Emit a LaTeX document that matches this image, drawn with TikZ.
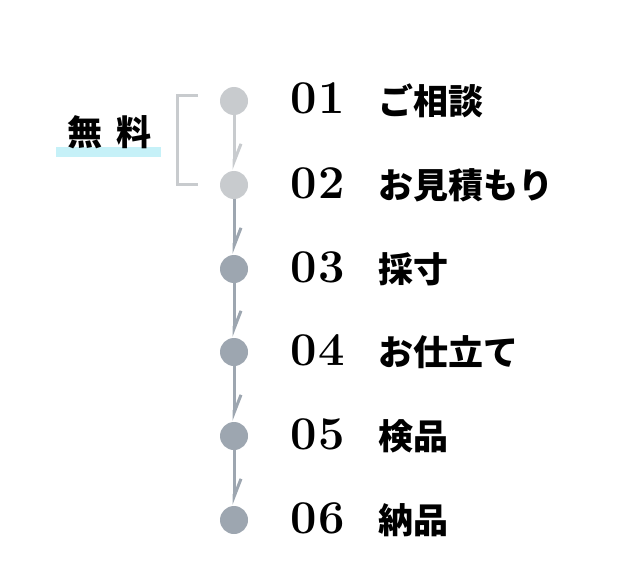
\documentclass[tikz,border=0pt]{standalone}
\usepackage{fontspec}
\usetikzlibrary{arrows.meta}
\newfontfamily\jpfont{Noto Sans CJK JP}
\definecolor{stepgray}{HTML}{C8CBCE}
\definecolor{stepblue}{HTML}{9DA6B0}
\definecolor{freecyan}{HTML}{C6F1F8}
\tikzset{
  dot/.style={circle, fill=#1, draw=none, minimum size=28pt, inner sep=0pt},
  flowline/.style={draw=#1, line width=3pt,
    -{Straight Barb[harpoon, length=18pt, width=14pt]}, shorten >=1pt},
  numtext/.style={anchor=base west, inner sep=0pt,
    font=\fontsize{47}{47}\selectfont\bfseries},
  steptext/.style={anchor=west, inner sep=0pt,
    font=\fontsize{35}{35}\selectfont\jpfont\bfseries},
}
\begin{document}
\begin{tikzpicture}[x=1pt, y=-1pt]
  \useasboundingbox (0,0) rectangle (631,580);
  % Dots:
  \node[dot=stepgray] (c1) at (234, 101){};
  \node[dot=stepgray] (c2) at (234, 185){};
  \node[dot=stepblue] (c3) at (234, 269){};
  \node[dot=stepblue] (c4) at (234, 352){};
  \node[dot=stepblue] (c5) at (234, 436){};
  \node[dot=stepblue] (c6) at (234, 520){};
  % Connectors:
  \draw[flowline=stepgray] (c1) -- (c2);
  \draw[flowline=stepblue] (c2) -- (c3);
  \draw[flowline=stepblue] (c3) -- (c4);
  \draw[flowline=stepblue] (c4) -- (c5);
  \draw[flowline=stepblue] (c5) -- (c6);
  % Numbers and labels:
  \node[numtext] (n1) at (290, 114){0\hspace{1.5pt}1};
  \node[numtext] (n2) at (290, 198){0\hspace{1.5pt}2};
  \node[numtext] (n3) at (290, 282){0\hspace{1.5pt}3};
  \node[numtext] (n4) at (290, 365){0\hspace{1.5pt}4};
  \node[numtext] (n5) at (290, 449){0\hspace{1.5pt}5};
  \node[numtext] (n6) at (290, 533){0\hspace{1.5pt}6};
  \node[steptext] (t1) at (378, 101){ご相談};
  \node[steptext] (t2) at (378, 185){お見積もり};
  \node[steptext] (t3) at (378, 269){採寸};
  \node[steptext] (t4) at (378, 352){お仕立て};
  \node[steptext] (t5) at (378, 436){検品};
  \node[steptext] (t6) at (378, 520){納品};
  % Free bracket:
  \fill[freecyan] (56, 147) rectangle (161, 157);
  \node[steptext, anchor=center] (free) at (109, 132){無\hspace{14pt}料};
  \coordinate (b1) at (198, 96);
  \coordinate (b2) at (198, 184);
  \draw[stepgray, line width=3pt] (b1) -| (177, 140) |- (b2);
\end{tikzpicture}
\end{document}
